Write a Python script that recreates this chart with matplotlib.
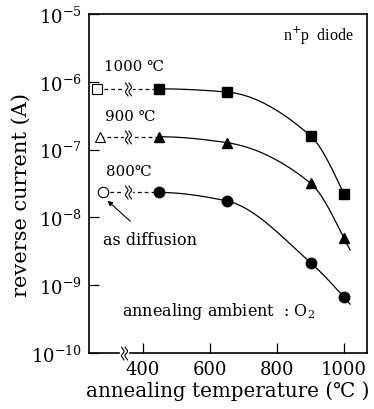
import numpy as np
import matplotlib
matplotlib.use("Agg")
import matplotlib.pyplot as plt
from matplotlib.path import Path

plt.rcParams['font.family'] = ['DejaVu Serif']
plt.rcParams['mathtext.fontset'] = 'dejavuserif'

# ---- data ----
anneal_T = [450, 650, 900, 1000]
I_1000 = [7.9e-7, 7.1e-7, 1.6e-7, 2.2e-8]
I_900 = [1.55e-7, 1.27e-7, 3.2e-8, 4.9e-9]
I_800 = [2.33e-8, 1.75e-8, 2.15e-9, 6.6e-10]
asdiff_T = [265, 274, 282]
asdiff_I = [7.9e-7, 1.55e-7, 2.33e-8]
diff_labels = ["1000 ℃", "900 ℃", "800℃"]
xticks = [400, 600, 800, 1000]


def pchip(x, y, xe):
    x = np.asarray(x, float); y = np.asarray(y, float)
    h = np.diff(x); d = np.diff(y) / h
    n = len(x); m = np.zeros(n)
    for k in range(1, n - 1):
        if d[k - 1] * d[k] > 0:
            w1 = 2 * h[k] + h[k - 1]; w2 = h[k] + 2 * h[k - 1]
            m[k] = (w1 + w2) / (w1 / d[k - 1] + w2 / d[k])
    def endm(h0, h1, d0, d1):
        v = ((2 * h0 + h1) * d0 - h0 * d1) / (h0 + h1)
        if np.sign(v) != np.sign(d0):
            v = 0.0
        elif np.sign(d0) != np.sign(d1) and abs(v) > abs(3 * d0):
            v = 3 * d0
        return v
    m[0] = endm(h[0], h[1], d[0], d[1])
    m[-1] = endm(h[-1], h[-2], d[-1], d[-2])
    xe = np.asarray(xe, float)
    idx = np.clip(np.searchsorted(x, xe) - 1, 0, n - 2)
    t = (xe - x[idx]) / h[idx]
    h00 = 2 * t**3 - 3 * t**2 + 1; h10 = t**3 - 2 * t**2 + t
    h01 = -2 * t**3 + 3 * t**2; h11 = t**3 - t**2
    return h00 * y[idx] + h10 * h[idx] * m[idx] + h01 * y[idx + 1] + h11 * h[idx] * m[idx + 1]


# squiggle marker path (two wavy vertical strokes)
tt = np.linspace(-1, 1, 30)
verts = []; codes = []
for off in (-0.25, 0.25):
    xs = off + 0.18 * np.sin(tt * np.pi * 1.5)
    pts = np.column_stack([xs, tt])
    verts.extend(pts.tolist())
    codes.extend([Path.MOVETO] + [Path.LINETO] * (len(pts) - 1))
squig = Path(verts, codes)

fig = plt.figure(figsize=(3.74, 4.10), dpi=100)
ax = fig.add_axes([0.238, 0.137, 0.743, 0.826])
ax.set_yscale('log')
ax.set_xlim(240, 1068)
ax.set_ylim(1e-10, 1e-5)

series = [(I_1000, 's', 1000), (I_900, '^', 1018), (I_800, 'o', 1018)]
for i, (vals, mk, xend) in enumerate(series):
    xe = np.linspace(anneal_T[0], xend, 200)
    ye = 10 ** pchip(anneal_T, np.log10(vals), xe)
    ax.plot(xe, ye, color='k', lw=0.9)
    ax.plot(anneal_T, vals, linestyle='none', marker=mk, ms=7.5, color='k')
    ax.plot([asdiff_T[i], anneal_T[0]], [asdiff_I[i], vals[0]], color='k',
            lw=0.9, ls=(0, (3, 2.5)))
    ax.plot([asdiff_T[i]], [asdiff_I[i]], marker=mk, ms=7.5, mfc='white',
            mec='k', mew=0.8, linestyle='none', zorder=5)
    yb = np.sqrt(asdiff_I[i] * vals[0])
    ax.plot([355], [yb], marker='s', ms=6, mfc='white', mec='white', zorder=6)
    ax.plot([355], [yb], marker=squig, ms=10, mfc='none', mec='k', mew=0.8, zorder=7)

label_pos = [(374, 10 ** -5.77), (362, 10 ** -6.5), (360, 10 ** -7.32)]
for (lx, ly), lab in zip(label_pos, diff_labels):
    ax.text(lx, ly, lab, ha='center', va='center', fontsize=10.8)

ax.annotate('as diffusion', xy=(283, 10 ** -7.70), xytext=(422, 10 ** -8.32),
            ha='center', va='center', fontsize=11.5,
            arrowprops=dict(arrowstyle='-|>', color='k', lw=0.8,
                            mutation_scale=7, shrinkA=7, shrinkB=4))
ax.text(0.955, 0.94, 'n$^{+}$p  diode', transform=ax.transAxes, ha='right',
        va='center', fontsize=11.5, family=['Liberation Serif', 'DejaVu Serif'])
ax.text(0.465, 0.125, 'annealing ambient  : O$_2$', transform=ax.transAxes,
        ha='center', va='center', fontsize=11.5)

ax.plot([345], [1e-10], marker='s', ms=6, mfc='white', mec='white',
        clip_on=False, zorder=10)
ax.plot([345], [1e-10], marker=squig, ms=10, mfc='none', mec='k', mew=0.8,
        clip_on=False, zorder=11)

ax.set_xticks(xticks)
ax.set_yticks([1e-10, 1e-9, 1e-8, 1e-7, 1e-6, 1e-5])
ax.minorticks_off()
ax.tick_params(direction='in', length=7, width=0.9, labelsize=13)
ax.tick_params(axis='y', pad=5)
ax.tick_params(axis='x', pad=5)
for sp in ax.spines.values():
    sp.set_linewidth(1.2)

ax.set_xlabel('annealing temperature (℃ )', fontsize=14.3, labelpad=2)
ax.set_ylabel('reverse current (A)', fontsize=15, labelpad=0)
ax.yaxis.label.set_y(0.47)

fig.savefig('out.png', dpi=100)
